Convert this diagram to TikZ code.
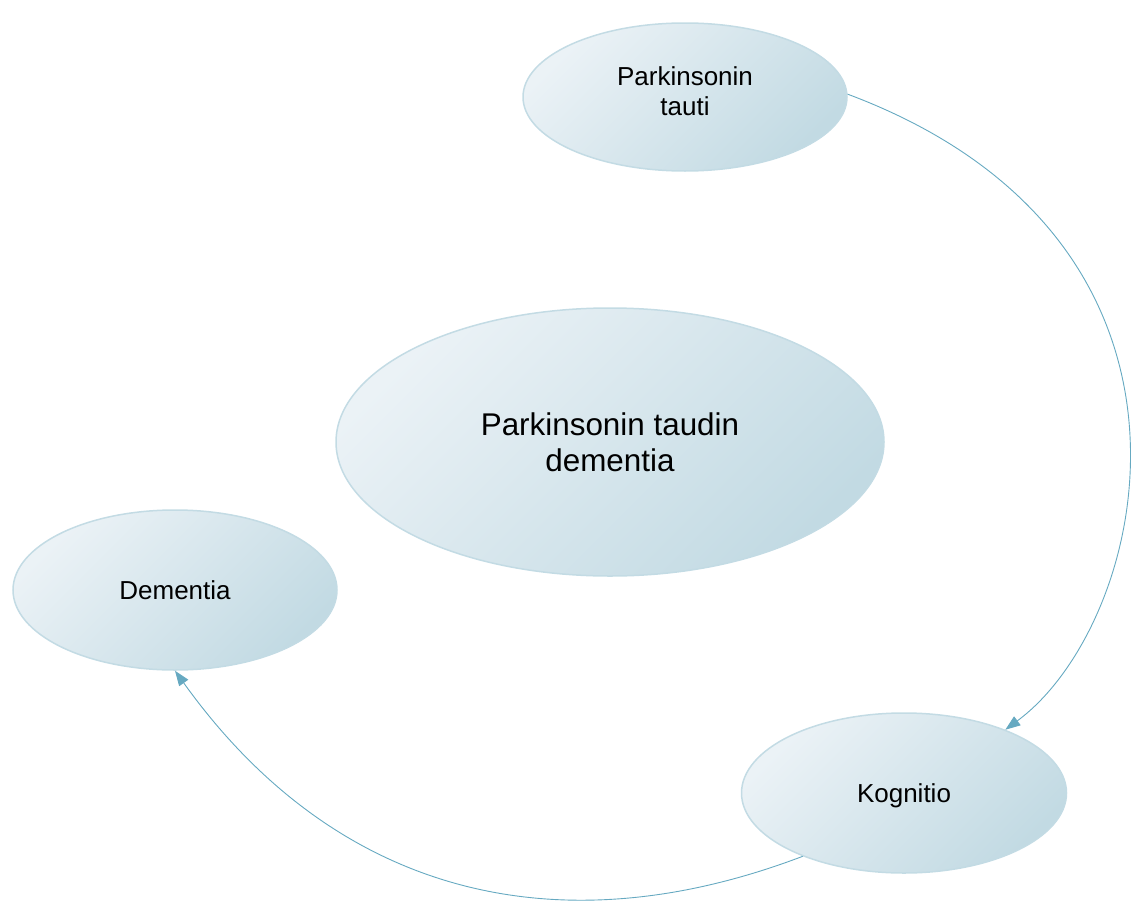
\documentclass[tikz,border=0pt]{standalone}
\usepackage{fontspec}
\setmainfont{Liberation Sans}
\usetikzlibrary{shapes.geometric,arrows.meta}
\definecolor{fillA}{HTML}{EBF2F6}
\definecolor{fillB}{HTML}{C2DAE3}
\definecolor{bord}{HTML}{C3DBE4}
\definecolor{edgecol}{HTML}{66A9C1}
\begin{document}
\begin{tikzpicture}[x=1pt,y=-1pt,
  bubble/.style={ellipse, draw=bord, line width=1.5pt, top color=fillA, bottom color=fillB, shading angle=45, inner sep=0pt, align=center, text=black},
  smalltext/.style={font=\fontsize{26}{30}\selectfont},
  bigtext/.style={font=\fontsize{31.4}{36}\selectfont},
  link/.style={draw=edgecol, line width=0.9pt, -{Triangle[length=15pt,width=11pt]}}]
\useasboundingbox (0,0) rectangle (1132,902);
\node[bubble, smalltext, minimum width=324pt, minimum height=148pt, text depth=12pt] (pt) at (685,97) {Parkinsonin\\tauti};
\node[bubble, bigtext, minimum width=548pt, minimum height=268pt, text depth=-5pt] (ptd) at (610,442) {Parkinsonin taudin\\dementia};
\node[bubble, smalltext, minimum width=324pt, minimum height=160pt, text depth=-4pt] (dem) at (175,590) {Dementia};
\node[bubble, smalltext, minimum width=325pt, minimum height=160pt, text depth=-4pt] (kog) at (904,793) {Kognitio};
\draw[link] (pt.1.5) .. controls (1240,241) and (1150,623) .. (kog.32);
\draw[link] (kog.212) .. controls (551,952) and (332,890) .. (dem.south);
\end{tikzpicture}
\end{document}
